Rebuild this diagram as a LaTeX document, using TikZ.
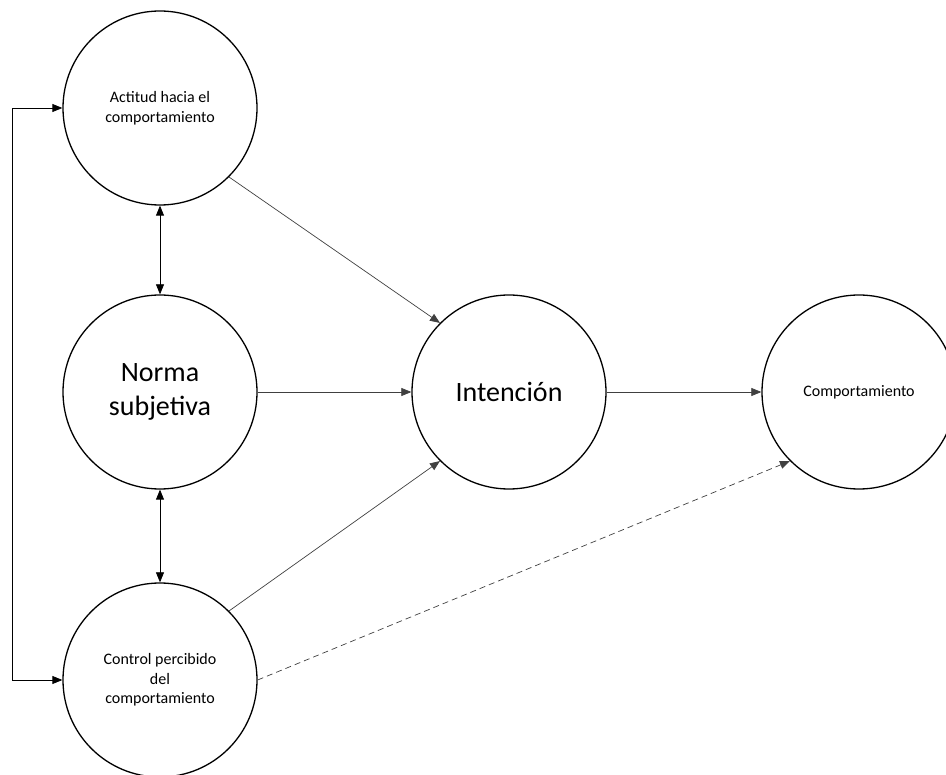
\documentclass[tikz,border=0pt]{standalone}
\usepackage{fontspec}
\setmainfont{Carlito}
\usetikzlibrary{arrows.meta}
\begin{document}
\begin{tikzpicture}[x=1pt,y=-1pt,
  concept/.style={circle,draw=black,line width=1.3pt,minimum size=194pt,inner sep=0pt,align=center},
  small/.style={font=\fontsize{16}{19.5}\selectfont},
  big/.style={font=\fontsize{28}{34}\selectfont},
  link/.style={draw=black!75,line width=0.7pt,-{Triangle[length=10pt,width=8pt]}},
  dlink/.style={draw=black,line width=0.8pt,{Triangle[length=10pt,width=8pt]}-{Triangle[length=10pt,width=8pt]}}
]
\useasboundingbox (0,0) rectangle (946,775);
\begin{scope}
\clip (0,0) rectangle (946,775);
\node[concept,small] (A) at (160,108) {Actitud hacia el\\comportamiento};
\node[concept,big] (N) at (160,392) {Norma\\subjetiva};
\node[concept,small] (C) at (160,680) {Control percibido\\del\\comportamiento};
\node[concept,big] (I) at (509,392) {Intención};
\node[concept,small] (B) at (859,392) {Comportamiento};
\end{scope}
\coordinate (L) at (12,0);
\draw[dlink] (A.south) -- (N.north);
\draw[dlink] (N.south) -- (C.north);
\draw[dlink] (C.west) -- (C.west -| L) -- (A.west -| L) -- (A.west);
\draw[link] (A.-45) -- (I.135);
\draw[link] (N.east) -- (I.west);
\draw[link] (C.45) -- (I.225);
\draw[link] (I.east) -- (B.west);
\draw[link,dash pattern=on 6pt off 4pt] (C.east) -- (B.225);
\end{tikzpicture}
\end{document}
